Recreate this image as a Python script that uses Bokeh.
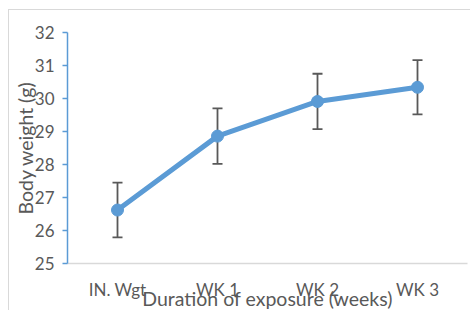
from bokeh.plotting import figure
from bokeh.models import FixedTicker, ColumnDataSource
from bokeh.embed import file_html
from bokeh.resources import INLINE

categories = ["IN. Wgt", "WK 1", "WK 2", "WK 3"]
weights = [26.62, 28.86, 29.91, 30.34]
errors = [0.83, 0.84, 0.84, 0.82]
y_ticks = [25, 26, 27, 28, 29, 30, 31, 32]

lower = [w - e for w, e in zip(weights, errors)]
upper = [w + e for w, e in zip(weights, errors)]
src = ColumnDataSource(dict(x=categories, y=weights, lo=lower, hi=upper))

FONT = "Lato"
TXT = "#595959"
BLUE = "#5b9bd5"

p = figure(x_range=categories, y_range=(25, 32),
           frame_width=400, frame_height=231,
           output_backend="svg", toolbar_location=None,
           min_border_left=58, min_border_right=3, min_border_top=22, min_border_bottom=47,
           margin=(9, 0, 0, 8),
           styles={"border-left": "1px solid #d9d9d9", "border-top": "1px solid #d9d9d9"})
p.outline_line_color = None
p.grid.visible = False
p.x_range.range_padding = 0

# error bars
p.segment(x0="x", y0="lo", x1="x", y1="hi", source=src, line_color="#595959", line_width=1.8)
p.scatter(x="x", y="lo", source=src, marker="dash", size=10, line_color="#595959", line_width=1.8)
p.scatter(x="x", y="hi", source=src, marker="dash", size=10, line_color="#595959", line_width=1.8)

# series
p.line(x="x", y="y", source=src, line_color=BLUE, line_width=5)
p.scatter(x="x", y="y", source=src, size=12, fill_color=BLUE, line_color=BLUE)

# y axis
p.yaxis.ticker = FixedTicker(ticks=y_ticks)
p.yaxis.axis_line_color = BLUE
p.yaxis.axis_line_width = 1.5
p.yaxis.major_tick_line_color = BLUE
p.yaxis.major_tick_line_width = 1.5
p.yaxis.major_tick_out = 5
p.yaxis.major_tick_in = 0
p.yaxis.minor_tick_line_color = None
p.yaxis.major_label_text_font = FONT
p.yaxis.major_label_text_font_size = "17px"
p.yaxis.major_label_text_color = TXT
p.yaxis.major_label_standoff = 8
p.yaxis.axis_label = "Body weight (g)"
p.yaxis.axis_label_text_font = FONT
p.yaxis.axis_label_text_font_size = "19.5px"
p.yaxis.axis_label_text_font_style = "normal"
p.yaxis.axis_label_text_color = TXT
p.yaxis.axis_label_standoff = -5

# x axis
p.xaxis.axis_line_color = "#d9d9d9"
p.xaxis.axis_line_width = 1.5
p.xaxis.major_tick_line_color = None
p.xaxis.minor_tick_line_color = None
p.xaxis.major_label_text_font = FONT
p.xaxis.major_label_text_font_size = "17px"
p.xaxis.major_label_text_color = TXT
p.xaxis.major_label_standoff = 9
p.xaxis.axis_label = "Duration of exposure (weeks)"
p.xaxis.axis_label_text_font = FONT
p.xaxis.axis_label_text_font_size = "19.5px"
p.xaxis.axis_label_text_font_style = "normal"
p.xaxis.axis_label_text_color = TXT
p.xaxis.axis_label_standoff = -16

open("out.html", "w").write(file_html(p, INLINE))
